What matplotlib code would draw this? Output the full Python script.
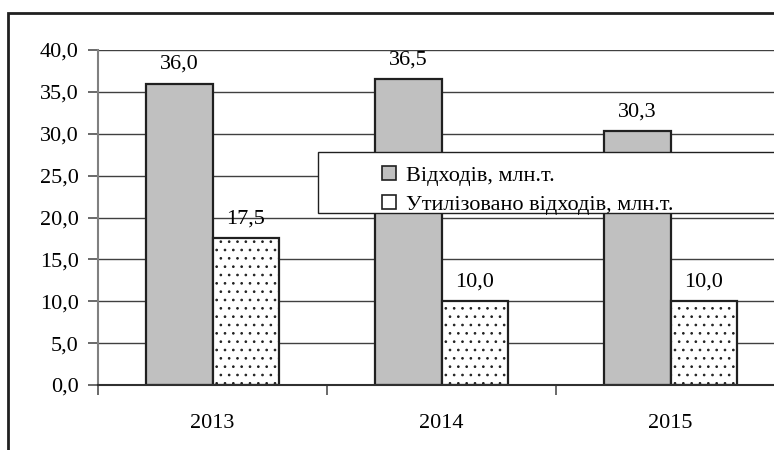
import matplotlib
matplotlib.use("Agg")
from matplotlib import pyplot as plt
from matplotlib.patches import Rectangle, Patch
import numpy as np

plt.rcParams["font.family"] = ["Liberation Serif", "DejaVu Serif"]
plt.rcParams["hatch.linewidth"] = 0.7
plt.rcParams["hatch.color"] = "#303030"

years = ["2013", "2014", "2015"]
waste = [36.0, 36.5, 30.3]
utilized = [17.5, 10.0, 10.0]
series_labels = ["Відходів, млн.т.", "Утилізовано відходів, млн.т."]

W, H = 774, 450
fig = plt.figure(figsize=(W / 100, H / 100), dpi=100)
ax = fig.add_axes([98 / W, 65 / H, 687 / W, 335 / H])

x = np.arange(len(years))
bw = 0.29
b1 = ax.bar(x - bw / 2, waste, bw, color="#c0c0c0", edgecolor="#202020", linewidth=1.6, zorder=3)
b2 = ax.bar(x + bw / 2, utilized, bw, color="white", edgecolor="#202020", linewidth=1.6,
            hatch="..", zorder=3)

def fmt(v):
    return f"{v:.1f}".replace(".", ",")

fs = 16
for bars, vals in ((b1, waste), (b2, utilized)):
    for rect, v in zip(bars, vals):
        ax.annotate(fmt(v), (rect.get_x() + rect.get_width() / 2, v),
                    xytext=(0, 7), textcoords="offset points",
                    ha="center", va="bottom", fontsize=fs)

ax.set_ylim(0, 40)
ax.set_xlim(-0.5, 2.5)
yt = np.arange(0, 45, 5)
ax.set_yticks(yt)
ax.set_yticklabels([fmt(v) for v in yt], fontsize=fs)
ax.set_xticks(x)
ax.set_xticklabels(years, fontsize=fs)
ax.set_xticks(np.arange(-0.5, 3.0, 1.0), minor=True)
ax.tick_params(axis="x", which="major", length=0, pad=21)
ax.tick_params(axis="x", which="minor", length=7, width=1.2, color="#505050", direction="out")
ax.tick_params(axis="y", length=7, width=1.2, color="#505050", pad=7)
ax.yaxis.grid(True, color="#404040", linewidth=1.0, zorder=0)
ax.set_axisbelow(True)
for s in ("top", "right"):
    ax.spines[s].set_visible(False)
ax.spines["left"].set_color("#808080")
ax.spines["left"].set_linewidth(1.5)
ax.spines["bottom"].set_color("#303030")
ax.spines["bottom"].set_linewidth(1.5)
ax.spines["bottom"].set_zorder(4)

# outer chart frame, cut at the right and bottom
fig.add_artist(Rectangle((8 / W, -0.2), 2.0, 1.2 - 13 / H, transform=fig.transFigure,
                         fill=False, edgecolor="#202020", linewidth=2.0))

# legend box, cut at the right
fig.add_artist(Rectangle((318 / W, 1 - 213 / H), 1.0, 61 / H, transform=fig.transFigure,
                         facecolor="white", edgecolor="#202020", linewidth=1.0, zorder=5))
handles = [Patch(facecolor="#c0c0c0", edgecolor="#202020", linewidth=1.2),
           Patch(facecolor="white", edgecolor="#202020", linewidth=1.2)]
leg = fig.legend(handles, series_labels, loc="upper left",
                 bbox_to_anchor=(366 / W, 1 - 150 / H), frameon=False, fontsize=fs,
                 handlelength=0.65, handleheight=0.65, handletextpad=0.45,
                 labelspacing=0.4, borderpad=0.2)
leg.set_zorder(6)

fig.savefig("out.png", dpi=100)
